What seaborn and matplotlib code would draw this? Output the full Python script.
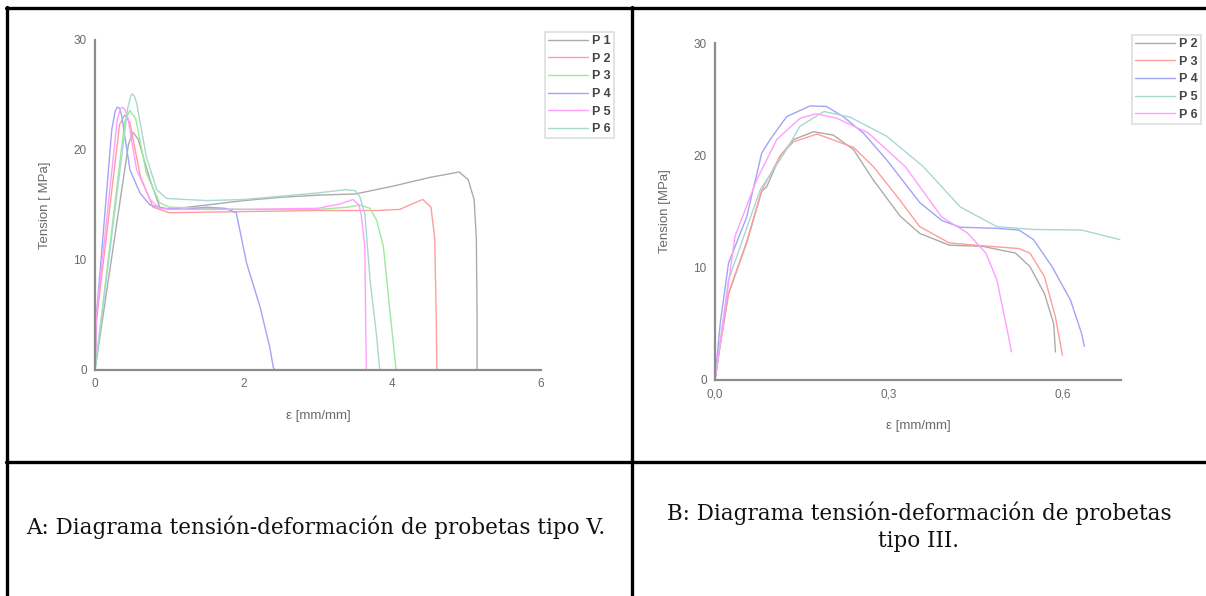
import matplotlib
matplotlib.use("Agg")
import matplotlib.pyplot as plt
import numpy as np
import pandas as pd
import seaborn as sns

# ---- chart A: probetas tipo V ----
a_p1_x = [0, 0.45, 0.51, 0.58, 0.74, 0.87, 1.0, 1.5, 2.0, 2.5, 3.0, 3.5, 4.0, 4.5, 4.9, 5.02, 5.10, 5.13, 5.14, 5.14]
a_p1_y = [0, 20.5, 21.6, 21.0, 17.3, 14.8, 14.6, 15.0, 15.4, 15.7, 15.9, 16.0, 16.7, 17.5, 18.0, 17.3, 15.5, 12.0, 5.0, 0]
a_p2_x = [0, 0.02, 0.33, 0.40, 0.47, 0.61, 0.78, 1.0, 2.0, 3.0, 3.8, 4.1, 4.3, 4.41, 4.52, 4.57, 4.59, 4.60]
a_p2_y = [0, 4.5, 22.3, 23.2, 22.5, 17.6, 14.8, 14.3, 14.4, 14.5, 14.5, 14.6, 15.2, 15.5, 14.8, 12.0, 5.0, 0]
a_p3_x = [0, 0.40, 0.47, 0.55, 0.69, 0.87, 1.0, 2.0, 3.0, 3.4, 3.56, 3.70, 3.79, 3.88, 3.97, 4.02, 4.05]
a_p3_y = [0, 22.6, 23.6, 22.8, 17.9, 15.2, 14.8, 14.6, 14.6, 14.8, 15.0, 14.7, 13.6, 11.2, 5.2, 2.0, 0]
a_p4_x = [0, 0.02, 0.225, 0.27, 0.30, 0.33, 0.36, 0.47, 0.605, 0.74, 0.92, 1.2, 1.5, 1.75, 1.90, 1.97, 2.04,
          2.22, 2.35, 2.40, 2.42]
a_p4_y = [0, 5.0, 21.8, 23.5, 23.9, 23.8, 23.1, 18.2, 16.1, 15.0, 14.7, 14.6, 14.8, 14.7, 14.3, 12.0, 9.7,
          5.75, 2.1, 0.2, 0]
a_p5_x = [0, 0.02, 0.30, 0.34, 0.37, 0.40, 0.44, 0.56, 0.74, 0.87, 1.0, 2.0, 3.0, 3.3, 3.47, 3.55, 3.58, 3.63,
          3.64, 3.65]
a_p5_y = [0, 5.0, 22.8, 23.7, 23.9, 23.7, 23.0, 18.2, 15.5, 14.7, 14.6, 14.6, 14.7, 15.1, 15.5, 15.0, 14.2, 11.2,
          5.0, 0]
a_p6_x = [0, 0.44, 0.48, 0.50, 0.53, 0.56, 0.69, 0.83, 0.96, 1.5, 2.0, 2.5, 3.0, 3.38, 3.50, 3.56, 3.63, 3.70,
          3.79, 3.83]
a_p6_y = [0, 23.8, 24.9, 25.1, 24.9, 24.3, 19.4, 16.4, 15.6, 15.4, 15.5, 15.8, 16.1, 16.4, 16.3, 15.8, 14.2, 8.2,
          3.0, 0]

# ---- chart B: probetas tipo III ----
b_p2_x = [0, 0.0086, 0.0233, 0.0546, 0.0805, 0.089, 0.112, 0.135, 0.170, 0.204, 0.239, 0.273, 0.319, 0.353,
          0.404, 0.461, 0.518, 0.543, 0.568, 0.584, 0.587]
b_p2_y = [0, 3.0, 7.7, 12.2, 16.8, 17.2, 19.9, 21.4, 22.1, 21.8, 20.5, 17.8, 14.6, 13.05,
          12.0, 11.9, 11.3, 10.1, 7.7, 5.0, 2.5]
b_p3_x = [0, 0.0086, 0.0233, 0.0546, 0.0805, 0.112, 0.135, 0.176, 0.239, 0.273, 0.319, 0.353, 0.404,
          0.461, 0.524, 0.543, 0.568, 0.587, 0.599]
b_p3_y = [0, 3.0, 7.7, 12.3, 16.9, 19.9, 21.2, 21.9, 20.7, 19.0, 16.0, 13.65, 12.2,
          11.95, 11.7, 11.3, 9.2, 5.6, 2.2]
b_p4_x = [0, 0.009, 0.0233, 0.0546, 0.0805, 0.095, 0.1236, 0.164, 0.192, 0.221, 0.256, 0.296, 0.353,
          0.391, 0.423, 0.486, 0.524, 0.549, 0.581, 0.613, 0.632, 0.637]
b_p4_y = [0, 5.05, 10.4, 14.5, 20.2, 21.4, 23.45, 24.4, 24.35, 23.45, 21.97, 19.6, 15.8,
          14.2, 13.6, 13.5, 13.35, 12.5, 10.1, 7.1, 4.15, 3.0]
b_p5_x = [0, 0.0233, 0.0776, 0.1195, 0.1466, 0.188, 0.233, 0.296, 0.359, 0.423, 0.486, 0.549, 0.632, 0.698]
b_p5_y = [0, 8.9, 16.9, 20.2, 22.6, 23.9, 23.4, 21.7, 19.0, 15.4, 13.65, 13.4, 13.35, 12.5]
b_p6_x = [0, 0.020, 0.0345, 0.0718, 0.1063, 0.1466, 0.175, 0.210, 0.264, 0.328, 0.391, 0.435, 0.467,
          0.486, 0.505, 0.511]
b_p6_y = [0, 7.4, 12.8, 17.8, 21.4, 23.3, 23.7, 23.3, 22.0, 19.0, 14.5, 13.1, 11.3, 8.9, 4.15, 2.5]

labels_a = ["P 1", "P 2", "P 3", "P 4", "P 5", "P 6"]
labels_b = ["P 2", "P 3", "P 4", "P 5", "P 6"]
caption_a = "A: Diagrama tensión-deformación de probetas tipo V."
caption_b = "B: Diagrama tensión-deformación de probetas\ntipo III."

GRAY, RED, GREEN, BLUE, MAG, TEAL = "#ababab", "#ff9d9d", "#9fe89f", "#a3a3f7", "#ff9eff", "#a8d8d0"
colors_a = [GRAY, RED, GREEN, BLUE, MAG, TEAL]
colors_b = [GRAY, RED, BLUE, TEAL, MAG]

sns.set_style("white")
plt.rcParams["font.family"] = ["Liberation Sans", "DejaVu Sans"]

W, H = 1206, 596
fig = plt.figure(figsize=(W / 100, H / 100), dpi=100)


def px_rect(x0, y0, x1, y1):
    # pixel box (top-left origin) -> figure fraction rect
    return [x0 / W, 1 - y1 / H, (x1 - x0) / W, (y1 - y0) / H]


def long_df(xs, ys, labels):
    parts = []
    for x, y, lab in zip(xs, ys, labels):
        parts.append(pd.DataFrame({"x": x, "y": y, "serie": lab, "order": np.arange(len(x))}))
    return pd.concat(parts, ignore_index=True)


def style_axes(ax, xmax, major, minor, fmt, ylabel):
    ax.set_xlim(0, xmax)
    ax.set_ylim(0, 30)
    ax.set_xticks(major)
    ax.set_xticks(minor, minor=True)
    ax.set_xticklabels(fmt)
    ax.set_yticks([0, 10, 20, 30])
    ax.set_yticks([5, 15, 25], minor=True)
    for s in ["top", "right"]:
        ax.spines[s].set_visible(False)
    for s in ["left", "bottom"]:
        ax.spines[s].set_color("#8c8c8c")
        ax.spines[s].set_linewidth(1.6)
    ax.tick_params(which="major", direction="out", length=4, width=1.2, color="#8c8c8c",
                   labelsize=8.5, labelcolor="#6a6a6a", pad=2)
    ax.tick_params(which="minor", direction="out", length=2, width=1.0, color="#8c8c8c")
    ax.set_xlabel("ε [mm/mm]", fontsize=9.5, color="#6a6a6a", labelpad=14)
    ax.set_ylabel(ylabel, fontsize=9.5, color="#6a6a6a", labelpad=16)
    ax.set_facecolor("none")


def draw(ax, df, labels, colors, leg_rect):
    sns.lineplot(data=df, x="x", y="y", hue="serie", hue_order=labels, palette=colors,
                 sort=False, estimator=None, units="serie", linewidth=1.0, ax=ax, legend=True)
    handles, labs = ax.get_legend_handles_labels()
    ax.get_legend().remove()
    x0, y0, x1, y1 = leg_rect
    leg = fig.legend(handles, labs, loc="upper left", bbox_to_anchor=(x0 / W, 1 - y0 / H),
                     bbox_transform=fig.transFigure, frameon=True, fancybox=False,
                     fontsize=9, handlelength=3.2, handletextpad=0.3, labelspacing=0.45,
                     borderpad=0.25, borderaxespad=0, markerfirst=True)
    leg.get_frame().set_edgecolor("#d6d6d6")
    leg.get_frame().set_linewidth(1.2)
    for t in leg.get_texts():
        t.set_fontweight("bold")
        t.set_color("#454545")


ax_a = fig.add_axes(px_rect(95, 40, 541, 370))
df_a = long_df([a_p1_x, a_p2_x, a_p3_x, a_p4_x, a_p5_x, a_p6_x],
               [a_p1_y, a_p2_y, a_p3_y, a_p4_y, a_p5_y, a_p6_y], labels_a)
draw(ax_a, df_a, labels_a, colors_a, (545, 32, 612, 138))
style_axes(ax_a, 6, [0, 2, 4, 6], [1, 3, 5], ["0", "2", "4", "6"], "Tension [ MPa]")

ax_b = fig.add_axes(px_rect(715, 43, 1121, 380))
df_b = long_df([b_p2_x, b_p3_x, b_p4_x, b_p5_x, b_p6_x],
               [b_p2_y, b_p3_y, b_p4_y, b_p5_y, b_p6_y], labels_b)
draw(ax_b, df_b, labels_b, colors_b, (1132, 35, 1195, 133))
style_axes(ax_b, 0.7, [0, 0.3, 0.6], [0.15, 0.45], ["0,0", "0,3", "0,6"], "Tension [MPa]")

# table frame
def hline(y, x0, x1):
    fig.add_artist(plt.Line2D([x0 / W, x1 / W], [1 - y / H, 1 - y / H], color="black", lw=2.4,
                              transform=fig.transFigure))


def vline(x, y0, y1):
    fig.add_artist(plt.Line2D([x / W, x / W], [1 - y0 / H, 1 - y1 / H], color="black", lw=2.4,
                              transform=fig.transFigure))


hline(8, 6, W)
hline(462, 6, W)
vline(7, 7, H)
vline(632, 7, H)

fig.text(316 / W, 1 - 527 / H, caption_a, ha="center", va="center", fontsize=15.5,
         family=["DejaVu Serif"], color="#111111")
fig.text(919 / W, 1 - 527 / H, caption_b, ha="center", va="center", fontsize=15.5,
         family=["DejaVu Serif"], color="#111111", linespacing=1.3)

fig.savefig("out.png", dpi=100)
